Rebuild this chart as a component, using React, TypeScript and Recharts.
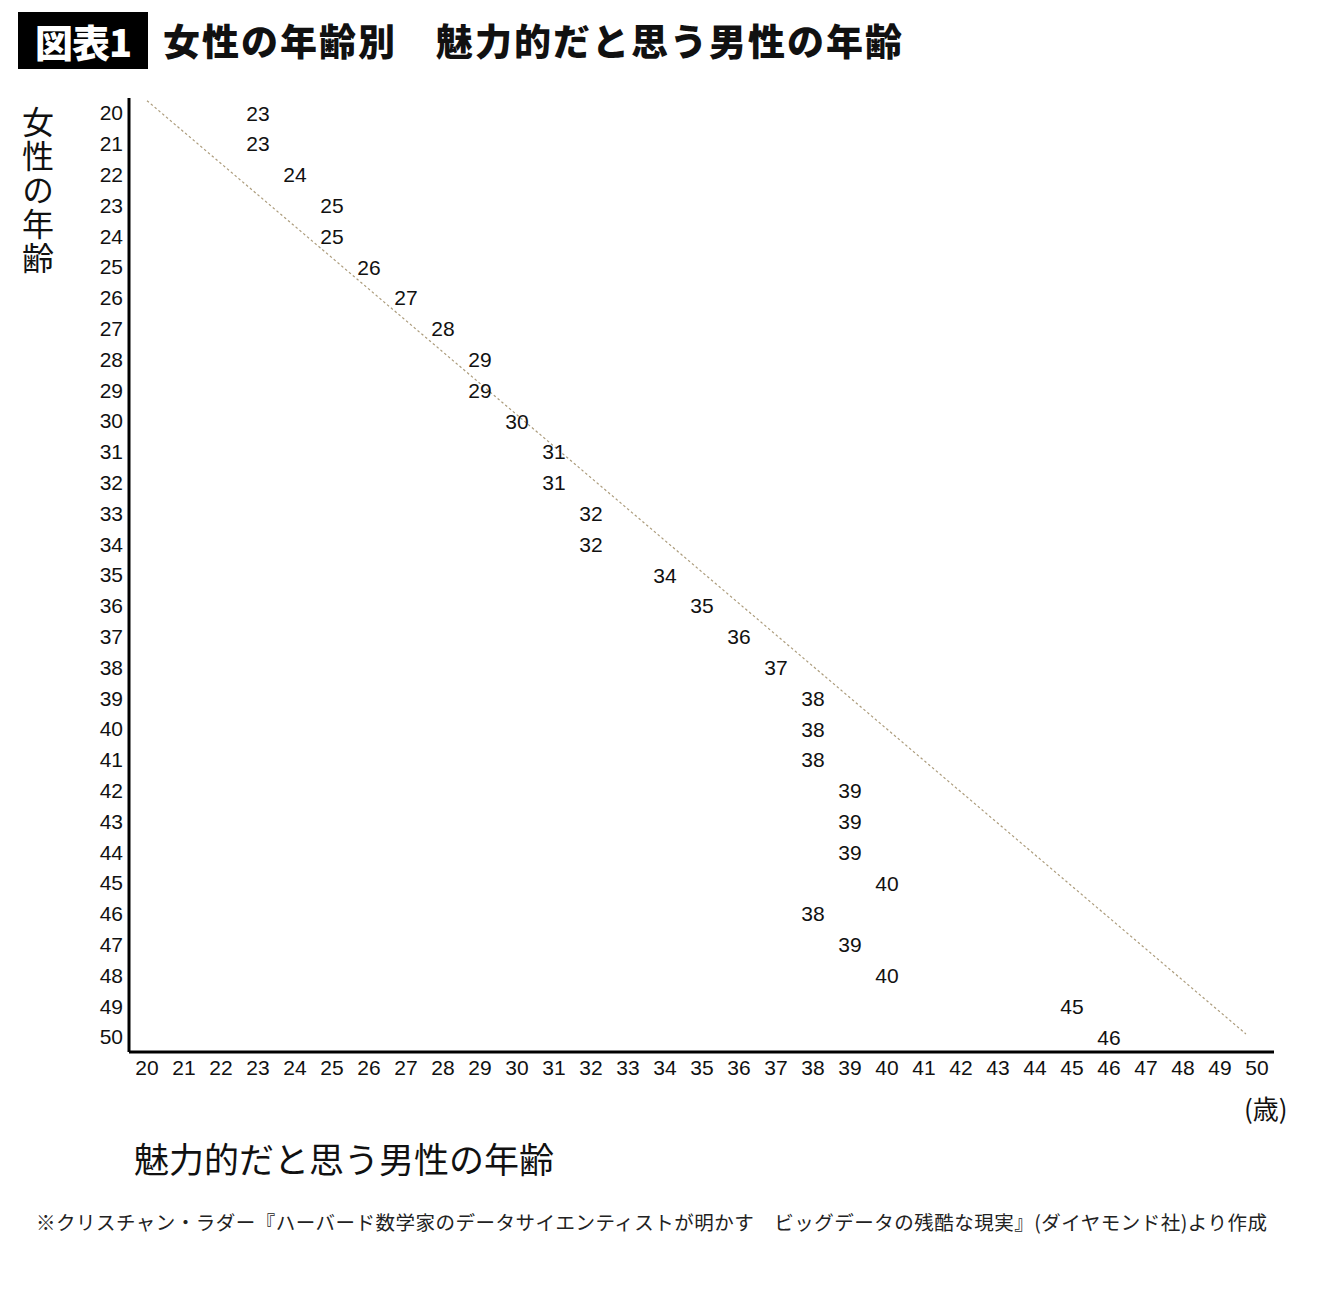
import React from 'react';
import {
  ScatterChart,
  Scatter,
  XAxis,
  YAxis,
  ReferenceLine,
} from 'recharts';

// women's age (rows) -> age of men they find most attractive
const womanAges = [
  20, 21, 22, 23, 24, 25, 26, 27, 28, 29, 30, 31, 32, 33, 34, 35, 36, 37, 38, 39,
  40, 41, 42, 43, 44, 45, 46, 47, 48, 49, 50,
];
const manAges = [
  23, 23, 24, 25, 25, 26, 27, 28, 29, 29, 30, 31, 31, 32, 32, 34, 35, 36, 37, 38,
  38, 38, 39, 39, 39, 40, 38, 39, 40, 45, 46,
];
const ageTicks = womanAges;
const diagonal = [
  { x: 20, y: 19.6 },
  { x: 49.7, y: 49.9 },
];

const data = womanAges.map((w, i) => ({ woman: w, man: manAges[i] }));

const numFont = '"Liberation Sans", Arial, sans-serif';
const jpFont = '"Noto Sans CJK JP", "Noto Sans", sans-serif';

const LabelShape = (props: any) => {
  const { cx, cy, payload } = props;
  return (
    <text
      x={cx}
      y={cy}
      textAnchor="middle"
      dominantBaseline="central"
      fontFamily={numFont}
      fontSize={21}
      fill="#111"
    >
      {payload.man}
    </text>
  );
};

export default function App() {
  return (
    <div
      style={{
        position: 'absolute',
        left: 0,
        top: 0,
        width: 1340,
        height: 1300,
        background: '#fff',
        overflow: 'hidden',
      }}
    >
      {/* title */}
      <div
        style={{
          position: 'absolute',
          left: 18,
          top: 12,
          width: 130,
          height: 57,
          background: '#000',
          color: '#fff',
          fontFamily: jpFont,
          fontWeight: 900,
          fontSize: 38,
          lineHeight: '57px',
          textAlign: 'center',
          letterSpacing: -1,
        }}
      >
        図表1
      </div>
      <div
        style={{
          position: 'absolute',
          left: 163,
          top: 12,
          height: 57,
          lineHeight: '57px',
          fontFamily: jpFont,
          fontWeight: 900,
          fontSize: 37,
          color: '#111',
          whiteSpace: 'pre',
          letterSpacing: 2,
        }}
      >
        女性の年齢別　魅力的だと思う男性の年齢
      </div>

      {/* y-axis title, vertical */}
      <div
        style={{
          position: 'absolute',
          left: 18,
          top: 106,
          width: 40,
          fontFamily: jpFont,
          fontSize: 32,
          lineHeight: '40px',
          color: '#111',
          writingMode: 'vertical-rl',
          letterSpacing: 2,
        }}
      >
        女性の年齢
      </div>

      <div style={{ position: 'absolute', left: 0, top: 0 }}>
        <ScatterChart
          width={1340}
          height={1300}
          margin={{ top: 98, right: 66, bottom: 218, left: 69 }}
        >
          <XAxis
            type="number"
            dataKey="man"
            domain={[20, 50]}
            ticks={ageTicks}
            interval={0}
            allowDecimals={false}
            height={30}
            padding={{ left: 18, right: 17 }}
            tickLine={false}
            tickSize={0}
            tickMargin={8}
            axisLine={{ stroke: '#000', strokeWidth: 3 }}
            tick={{ fill: '#111', fontSize: 21, fontFamily: numFont }}
          />
          <YAxis
            type="number"
            dataKey="woman"
            domain={[20, 50]}
            reversed
            ticks={ageTicks}
            interval={0}
            width={60}
            padding={{ top: 15, bottom: 15 }}
            tickLine={false}
            tickSize={0}
            tickMargin={6}
            axisLine={{ stroke: '#000', strokeWidth: 3 }}
            tick={{ fill: '#111', fontSize: 21, fontFamily: numFont }}
          />
          <ReferenceLine
            segment={diagonal}
            stroke="#ac9c7c"
            strokeWidth={1.2}
            strokeDasharray="2.5 2.5"
            ifOverflow="visible"
          />
          <Scatter data={data} shape={LabelShape} isAnimationActive={false} />
        </ScatterChart>
      </div>

      <div
        style={{
          position: 'absolute',
          left: 1244,
          top: 1090,
          fontFamily: jpFont,
          fontSize: 26,
          color: '#111',
          lineHeight: '36px',
        }}
      >
        (歳)
      </div>

      <div
        style={{
          position: 'absolute',
          left: 134,
          top: 1135,
          fontFamily: jpFont,
          fontSize: 35,
          color: '#111',
          lineHeight: '46px',
        }}
      >
        魅力的だと思う男性の年齢
      </div>

      <div
        style={{
          position: 'absolute',
          left: 36,
          top: 1208,
          fontFamily: jpFont,
          fontSize: 19.5,
          color: '#222',
          lineHeight: '28px',
          whiteSpace: 'pre',
          letterSpacing: 0.5,
        }}
      >
        ※クリスチャン・ラダー『ハーバード数学家のデータサイエンティストが明かす　ビッグデータの残酷な現実』(ダイヤモンド社)より作成
      </div>
    </div>
  );
}
